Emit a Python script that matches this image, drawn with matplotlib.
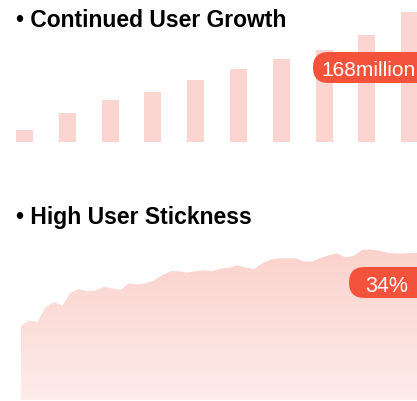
import numpy as np
import matplotlib.pyplot as plt
from matplotlib.patches import FancyBboxPatch
from matplotlib.colors import LinearSegmentedColormap

plt.rcParams['font.family'] = ['Liberation Sans', 'DejaVu Sans']

# user growth bars (millions)
growth = [15.5, 37.5, 54, 65, 80, 94, 107, 119, 138, 168]
growth_label = "168million"

# stickiness (%)
stickiness = [16.6, 17.9, 17.5, 20.9, 22.1, 21.2, 24.2, 25.0, 24.5, 24.7,
              25.5, 25.1, 24.8, 26.3, 26.0, 26.3, 26.9, 28.1, 29.0, 29.0,
              28.7, 29.0, 29.2, 29.0, 29.6, 29.8, 30.3, 29.8, 29.5, 30.8,
              31.6, 31.9, 31.9, 31.9, 31.2, 31.2, 32.0, 32.6, 33.0, 32.1,
              32.5, 33.8, 33.9, 33.6, 33.2, 33.0, 33.0, 33.1, 33.2]
stick_label = "34%"

titles = ["• Continued User Growth", "• High User Stickness"]

W, H = 417, 402
fig = plt.figure(figsize=(W / 100, H / 100), dpi=100)
fig.patch.set_facecolor("white")

def px_axes(left, top, right, bottom):
    return fig.add_axes([left / W, 1 - bottom / H, (right - left) / W, (bottom - top) / H])

# top: bars
ax1 = px_axes(0, 13, W, 143)
x = np.arange(len(growth))
ax1.bar(x, growth, width=0.4, color="#fcd5d0")
ax1.set_xlim(-0.572, 9.17)
ax1.set_ylim(0, 168)
ax1.axis("off")

# bottom: gradient area
ax2 = px_axes(0, 250, W, 401)
xs = np.arange(len(stickiness))
poly = ax2.fill_between(xs, stickiness, 0, color="none", lw=0)
cmap = LinearSegmentedColormap.from_list("g", ["#fdecea", "#fbd2cc"])
grad = np.linspace(0, 1, 256).reshape(-1, 1)
img = ax2.imshow(grad, cmap=cmap, aspect="auto", origin="lower",
                 extent=[0, len(stickiness), 0, 34])
img.set_clip_path(poly.get_paths()[0], transform=ax2.transData)
ax2.set_xlim(-20.7 / 8.333, 47.56)
ax2.set_ylim(0, 34)
ax2.axis("off")

# overlay for titles and pills (pixel coords)
ov = fig.add_axes([0, 0, 1, 1], zorder=5)
ov.set_xlim(0, W)
ov.set_ylim(H, 0)
ov.patch.set_alpha(0)
ov.axis("off")

ov.text(16, 27, titles[0], fontsize=16.5, fontweight="bold", va="baseline", ha="left", color="#000000")
ov.text(16, 224, titles[1], fontsize=16.5, fontweight="bold", va="baseline", ha="left", color="#000000")

def pill(x0, y0, h, text, tx, ty, fs):
    p = FancyBboxPatch((x0, y0), 200, h, boxstyle=f"round,pad=0,rounding_size={h / 2}",
                       fc="#f5523c", ec="none")
    ov.add_patch(p)
    ov.text(tx, ty, text, fontsize=fs, color="white", va="center_baseline", ha="left")

pill(313, 53, 31, growth_label, 321, 69, 15.0)
pill(349, 268, 31, stick_label, 365, 284, 15.5)

fig.savefig("out.png", dpi=100)
